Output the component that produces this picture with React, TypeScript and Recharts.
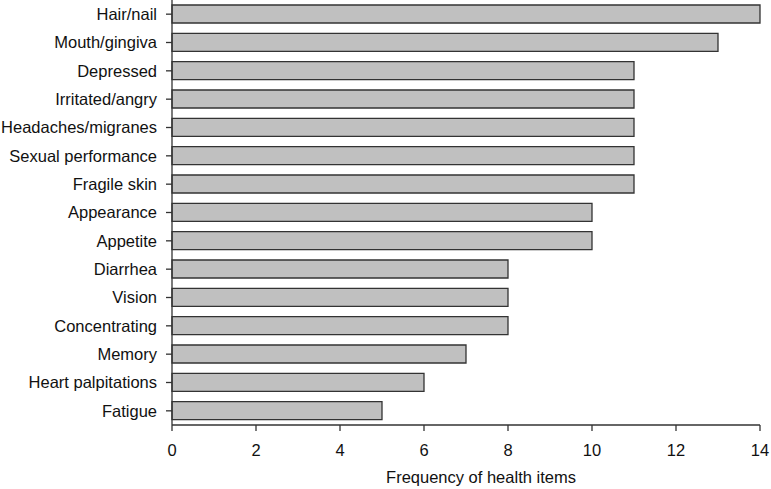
import React from 'react';
import { BarChart, Bar, XAxis, YAxis, Label } from 'recharts';

const categories = [
  'Hair/nail',
  'Mouth/gingiva',
  'Depressed',
  'Irritated/angry',
  'Headaches/migranes',
  'Sexual performance',
  'Fragile skin',
  'Appearance',
  'Appetite',
  'Diarrhea',
  'Vision',
  'Concentrating',
  'Memory',
  'Heart palpitations',
  'Fatigue',
];
const frequencies = [14, 13, 11, 11, 11, 11, 11, 10, 10, 8, 8, 8, 7, 6, 5];
const xTicks = [0, 2, 4, 6, 8, 10, 12, 14];

const data = categories.map((name, i) => ({ name, value: frequencies[i] }));

const FONT = 'Liberation Sans, Arial, sans-serif';
const AXIS = '#333333';

export default function App() {
  return (
    <div style={{ position: 'absolute', left: 0, top: 0, background: '#fff' }}>
      <BarChart
        width={771}
        height={489}
        data={data}
        layout="vertical"
        margin={{ top: 0, right: 11, bottom: 0, left: 0 }}
        barSize={18}
      >
        <XAxis
          type="number"
          domain={[0, 14]}
          ticks={xTicks}
          interval={0}
          height={64}
          tickSize={6}
          tickMargin={13}
          stroke={AXIS}
          tick={{ fill: '#111', fontSize: 16.5, fontFamily: FONT }}
          axisLine={{ stroke: AXIS, strokeWidth: 1.3 }}
          tickLine={{ stroke: AXIS, strokeWidth: 1.3 }}
        >
          <Label
            value="Frequency of health items"
            position="insideBottom"
            offset={6}
            dx={15}
            style={{ fill: '#111', fontSize: 16.5, fontFamily: FONT }}
          />
        </XAxis>
        <YAxis
          type="category"
          dataKey="name"
          width={172}
          interval={0}
          tickSize={6}
          tickMargin={9}
          stroke={AXIS}
          tick={{ fill: '#111', fontSize: 16.5, fontFamily: FONT }}
          axisLine={{ stroke: AXIS, strokeWidth: 1.3 }}
          tickLine={{ stroke: AXIS, strokeWidth: 1.3 }}
        />
        <Bar
          dataKey="value"
          fill="#c0c0c0"
          stroke="#333333"
          strokeWidth={1.3}
          isAnimationActive={false}
        />
      </BarChart>
    </div>
  );
}
